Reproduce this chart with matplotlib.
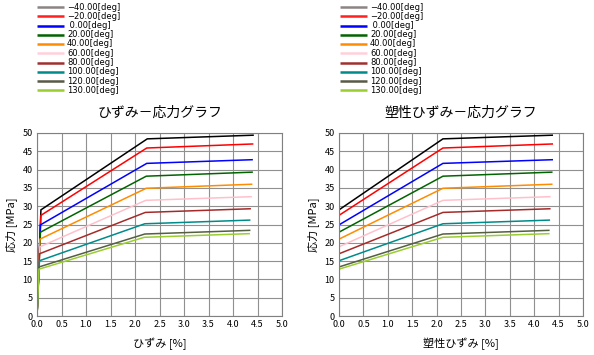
import numpy as np
import matplotlib
matplotlib.use("Agg")
import matplotlib.pyplot as plt

plt.rcParams['font.family'] = ['Noto Sans CJK JP', 'DejaVu Sans']

# temperatures and colours
temps = ["−40.00[deg]", "−20.00[deg]", " 0.00[deg]", "20.00[deg]", "40.00[deg]",
         "60.00[deg]", "80.00[deg]", "100.00[deg]", "120.00[deg]", "130.00[deg]"]
line_colors = ["#000000", "#ff0000", "#0000ff", "#006400", "#ff8c00",
               "#ffc0cb", "#a52a2a", "#008b8b", "#556040", "#9acd32"]
legend_colors = ["#8c8484", "#ff2020", "#0000ff", "#006400", "#ff8c00",
                 "#ffd0dc", "#a03030", "#008b8b", "#5a5a48", "#9acd32"]

# stress values [MPa]: yield, knee, end
stress_yield = [29.0, 27.5, 24.9, 22.9, 21.0, 18.9, 17.0, 15.1, 13.4, 12.8]
stress_knee = [48.4, 45.9, 41.7, 38.2, 34.9, 31.6, 28.3, 25.2, 22.4, 21.5]
stress_end = [49.4, 47.0, 42.7, 39.3, 36.0, 32.6, 29.3, 26.2, 23.4, 22.5]

# total strain [%] breakpoints (left chart)
tot_yield = [0.08, 0.08, 0.07, 0.07, 0.06, 0.06, 0.05, 0.05, 0.04, 0.04]
tot_knee = [2.25, 2.24, 2.24, 2.23, 2.23, 2.22, 2.21, 2.20, 2.20, 2.19]
tot_end = [4.41, 4.40, 4.39, 4.39, 4.38, 4.37, 4.35, 4.34, 4.34, 4.33]

# plastic strain [%] breakpoints (right chart)
pl_knee = [2.13, 2.13, 2.13, 2.13, 2.13, 2.13, 2.13, 2.13, 2.13, 2.13]
pl_end = [4.37, 4.37, 4.37, 4.36, 4.36, 4.32, 4.32, 4.31, 4.30, 4.30]

fig = plt.figure(figsize=(5.94, 3.55), dpi=100)
W, H = 594, 355
ax1 = fig.add_axes([37 / W, 1 - 316 / H, 245 / W, 183 / H])
ax2 = fig.add_axes([339 / W, 1 - 316 / H, 244 / W, 183 / H])

for i in range(len(temps)):
    ax1.plot([0, tot_yield[i], tot_knee[i], tot_end[i]],
             [0, stress_yield[i], stress_knee[i], stress_end[i]],
             color=line_colors[i], lw=1.1, solid_joinstyle='miter')
    ax2.plot([0, pl_knee[i], pl_end[i]],
             [stress_yield[i], stress_knee[i], stress_end[i]],
             color=line_colors[i], lw=1.1, solid_joinstyle='miter')

titles = ["ひずみ－応力グラフ", "塑性ひずみ－応力グラフ"]
xlabels = ["ひずみ [%]", "塑性ひずみ [%]"]
for ax, t, xl in zip([ax1, ax2], titles, xlabels):
    ax.set_xlim(0, 5)
    ax.set_ylim(0, 50)
    ax.set_xticks(np.arange(0, 5.01, 0.5))
    ax.set_yticks(np.arange(0, 51, 5))
    ax.set_xticklabels(["%.1f" % v for v in np.arange(0, 5.01, 0.5)])
    ax.tick_params(labelsize=6.5, length=0, pad=3)
    ax.grid(True, color="#909090", lw=0.8)
    for s in ax.spines.values():
        s.set_color("#808080")
    ax.set_title(t, fontsize=10, pad=12)
    ax.set_xlabel(xl, fontsize=8, labelpad=6)
    ax.set_ylabel("応力 [MPa]", fontsize=8, labelpad=4)

# legends, drawn in a small axes above each chart (pixel coordinates)
for x0 in [37, 340]:
    lax = fig.add_axes([x0 / W, 1 - 96 / H, 100 / W, 94 / H])
    lax.set_xlim(0, 100)
    lax.set_ylim(94, 0)
    lax.axis("off")
    for i, (lab, c) in enumerate(zip(temps, legend_colors)):
        yy = 5 + i * 9.25
        lax.plot([0, 27], [yy, yy], color=c, lw=1.8, solid_capstyle='butt')
        lax.text(30, yy, lab, fontsize=6, va="center", ha="left",
                 family="DejaVu Sans")

fig.savefig("out.png", dpi=100)
plt.close(fig)
